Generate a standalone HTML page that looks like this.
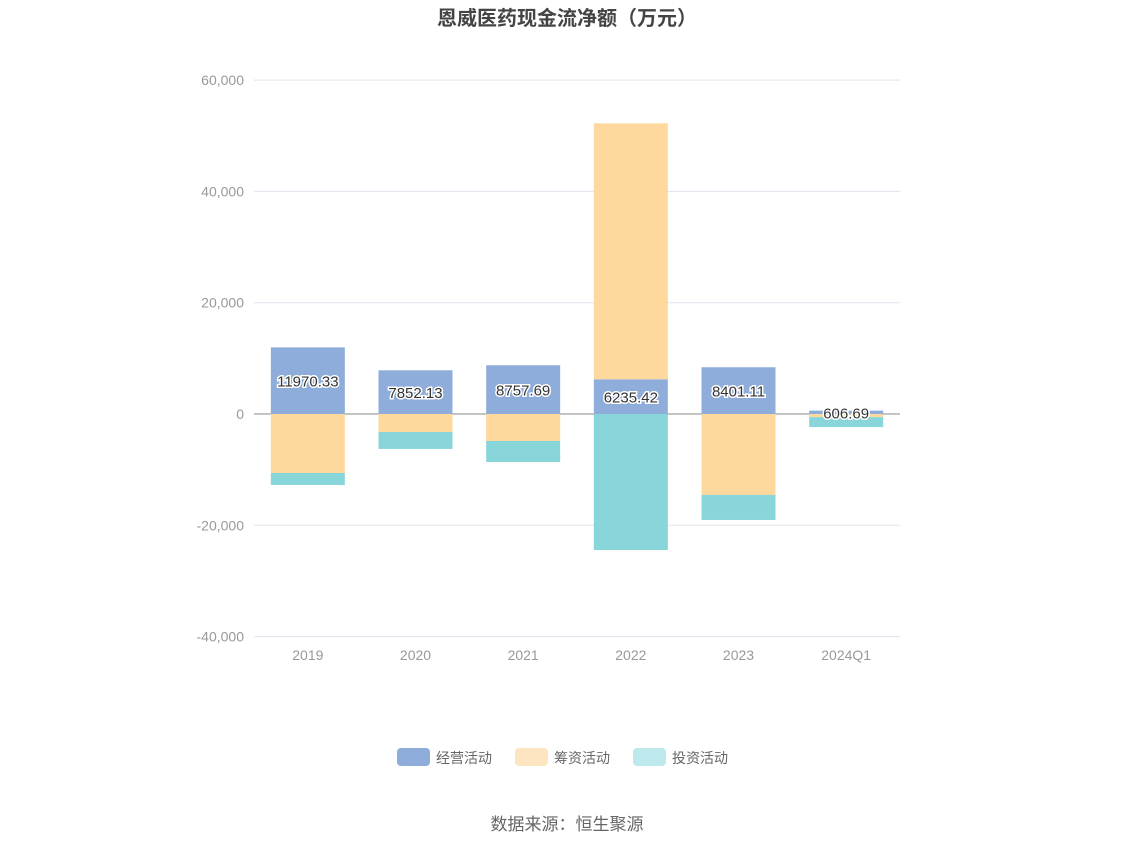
<!DOCTYPE html>
<html><head><meta charset="utf-8"><style>
body{margin:0;background:#fff;font-family:"Liberation Sans","Noto Sans CJK SC",sans-serif;}
</style></head><body>
<svg id="c" width="1134" height="849" font-family="Liberation Sans, Noto Sans CJK SC, sans-serif"></svg>
<script>
const categories=["2019","2020","2021","2022","2023","2024Q1"];
const operating=[11970.33,7852.13,8757.69,6235.42,8401.11,606.69];
const financing=[-10600,-3230,-4850,46000,-14550,-550];
const investing=[-2150,-3050,-3770,-24440,-4490,-1800];
const yTicks=[60000,40000,20000,0,-20000,-40000];
const NS="http://www.w3.org/2000/svg";
const svg=document.getElementById('c');
function mk(t,a,p){const e=document.createElementNS(NS,t);for(const k in a)e.setAttribute(k,a[k]);(p||svg).appendChild(e);return e;}
const x0=254,x1=900,y0=414,pxPer=111.3/20000;
const y=v=>y0-v*pxPer;
const band=(x1-x0)/categories.length;
const cx=i=>x0+band*(i+0.5);
const bw=74;
const title=mk('text',{x:567,y:25,'text-anchor':'middle','font-size':20,'font-weight':'bold',fill:'#444'});
title.textContent='恩威医药现金流净额（万元）';


yTicks.forEach(t=>{
 const l=mk('line',{x1:x0,x2:x1,y1:y(t),y2:y(t),stroke:t===0?'#888':'#e0e3ee','stroke-width':1});
 
 
 const tx=mk('text',{x:244,y:y(t)+5,'text-anchor':'end','font-size':14,fill:'#999'});
 tx.textContent=t.toLocaleString('en-US');
 
 
});
categories.forEach((c,i)=>{
 const tx=mk('text',{x:cx(i),y:660,'text-anchor':'middle','font-size':14,fill:'#999'});
 tx.textContent=c;
 
 
 let pos=0,neg=0;
 [[operating,'#8fadda','operating-bar'],[financing,'#fed89c','financing-bar'],[investing,'#88d5da','investing-bar']].forEach(([arr,col,nm])=>{
  const v=arr[i];let a,b;
  if(v>=0){a=pos;b=pos+v;pos=b;}else{a=neg;b=neg+v;neg=b;}
  const r=mk('rect',{x:cx(i)-bw/2,y:Math.min(y(a),y(b)),width:bw,height:Math.abs(y(a)-y(b)),fill:col});
  
  
 });
 const lb=mk('text',{x:cx(i),y:y(operating[i]/2)+6,'text-anchor':'middle','font-size':15,fill:'#333',stroke:'#fff','stroke-width':3,'paint-order':'stroke'});
 lb.textContent=operating[i].toFixed(2);
 
 
});
const leg=[['经营活动','#8fadda',397],['筹资活动','#fee5c2',515],['投资活动','#bde9ec',633]];
leg.forEach(([t,c,x])=>{
 const g=mk('g',{});
 
 
 mk('rect',{x:x,y:748,width:33,height:18,rx:4,fill:c},g);
 const tx=mk('text',{x:x+39,y:763,'font-size':14,fill:'#666'},g);tx.textContent=t;
});
const src=mk('text',{x:567,y:830,'text-anchor':'middle','font-size':17,fill:'#666'});
src.textContent='数据来源：恒生聚源';


</script>
</body></html>
